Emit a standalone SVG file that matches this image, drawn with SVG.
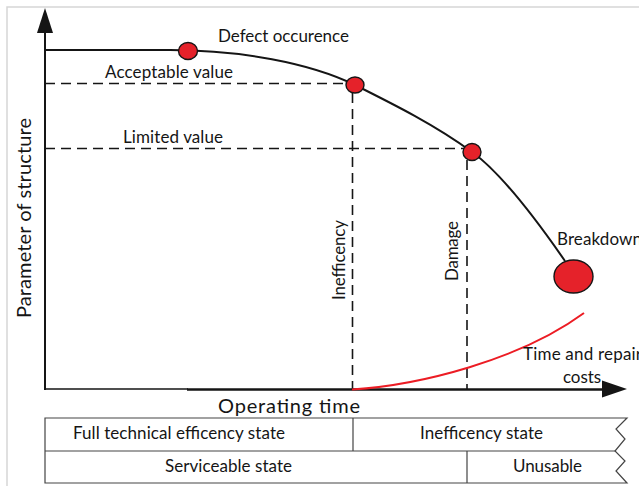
<svg xmlns="http://www.w3.org/2000/svg" width="639" height="486" viewBox="0 0 639 486">
<style>
  text { font-family: Lato, "Liberation Sans", sans-serif; font-size: 17px; fill: #151515; }
  .big { font-size: 20px; }
  .dash { fill: none; stroke: #151515; stroke-width: 1.6; stroke-dasharray: 10 6; }
  .dot { fill: #e5222a; stroke: #151515; stroke-width: 1.4; }
  .tbl { fill: none; stroke: #444; stroke-width: 1.2; }
  .ax { stroke: #151515; fill: none; }
</style>
<rect width="639" height="486" fill="#fff"/>
<path d="M7,486 V7 H639" fill="none" stroke="#d6d6d6" stroke-width="1.5"/>

<g id="axes">
  <line class="ax" x1="45" y1="30" x2="45" y2="390" stroke-width="2"/>
  <polygon points="45,8 37,33 53,33" fill="#151515"/>
  <line class="ax" x1="45" y1="389" x2="188" y2="389" stroke-width="1.5"/>
  <line class="ax" x1="187" y1="389.5" x2="605" y2="389.5" stroke-width="2.5"/>
  <polygon points="627,389 602,380.5 602,397.5" fill="#151515"/>
  <text class="big" x="218" y="413" textLength="142">Operating time</text>
  <text class="big" transform="translate(31,318) rotate(-90)" textLength="200">Parameter of structure</text>
</g>

<g id="connectors">
  <path d="M45,50 H170 C240,50 310,63 355,85 C395,105 435,125 472,152 C500,172 538,222 565,261" fill="none" stroke="#151515" stroke-width="2"/>
  <line class="dash" x1="45" y1="83.5" x2="350" y2="83.5"/>
  <line class="dash" x1="45" y1="148.5" x2="465" y2="148.5"/>
  <line class="dash" x1="352.5" y1="93" x2="352.5" y2="389"/>
  <line class="dash" x1="467" y1="160" x2="467" y2="389"/>
  <path d="M352,389.5 C420,385 520,360 584,313" fill="none" stroke="#ec1c24" stroke-width="2"/>
</g>

<g id="defect">
  <ellipse class="dot" cx="188" cy="51" rx="9.5" ry="8.5"/>
  <text x="218" y="42" textLength="131">Defect occurence</text>
</g>
<g id="acceptable">
  <ellipse class="dot" cx="355" cy="85" rx="9" ry="8"/>
  <text x="105" y="78" textLength="128">Acceptable value</text>
</g>
<g id="limited">
  <ellipse class="dot" cx="472" cy="152" rx="9" ry="8.5"/>
  <text x="123" y="143" textLength="100">Limited value</text>
</g>
<g id="inefficency">
  <text transform="translate(345,300) rotate(-90)" textLength="80">Inefficency</text>
</g>
<g id="damage">
  <text transform="translate(457.5,281) rotate(-90)" textLength="60">Damage</text>
</g>
<g id="breakdown">
  <ellipse class="dot" cx="573.5" cy="276.5" rx="19.5" ry="16.5"/>
  <text x="557" y="245" textLength="85">Breakdown</text>
</g>
<g id="costs">
  <text x="523" y="360" textLength="119">Time and repair</text>
  <text x="563" y="383" textLength="38">costs</text>
</g>

<g id="table">
  <path class="tbl" d="M45,418 H627 L616,429 L625,439 L615,451 L625,461 L616,471 L627,483 H45 Z"/>
  <line class="tbl" x1="45" y1="451" x2="615" y2="451"/>
  <line class="tbl" x1="353" y1="418" x2="353" y2="451"/>
  <line class="tbl" x1="467" y1="451" x2="467" y2="483"/>
</g>
<g id="cell-full"><text x="73" y="439" textLength="212">Full technical efficency state</text></g>
<g id="cell-ineff"><text x="420" y="439" textLength="123">Inefficency state</text></g>
<g id="cell-service"><text x="165" y="472" textLength="127">Serviceable state</text></g>
<g id="cell-unusable"><text x="513" y="472" textLength="69">Unusable</text></g>
</svg>
